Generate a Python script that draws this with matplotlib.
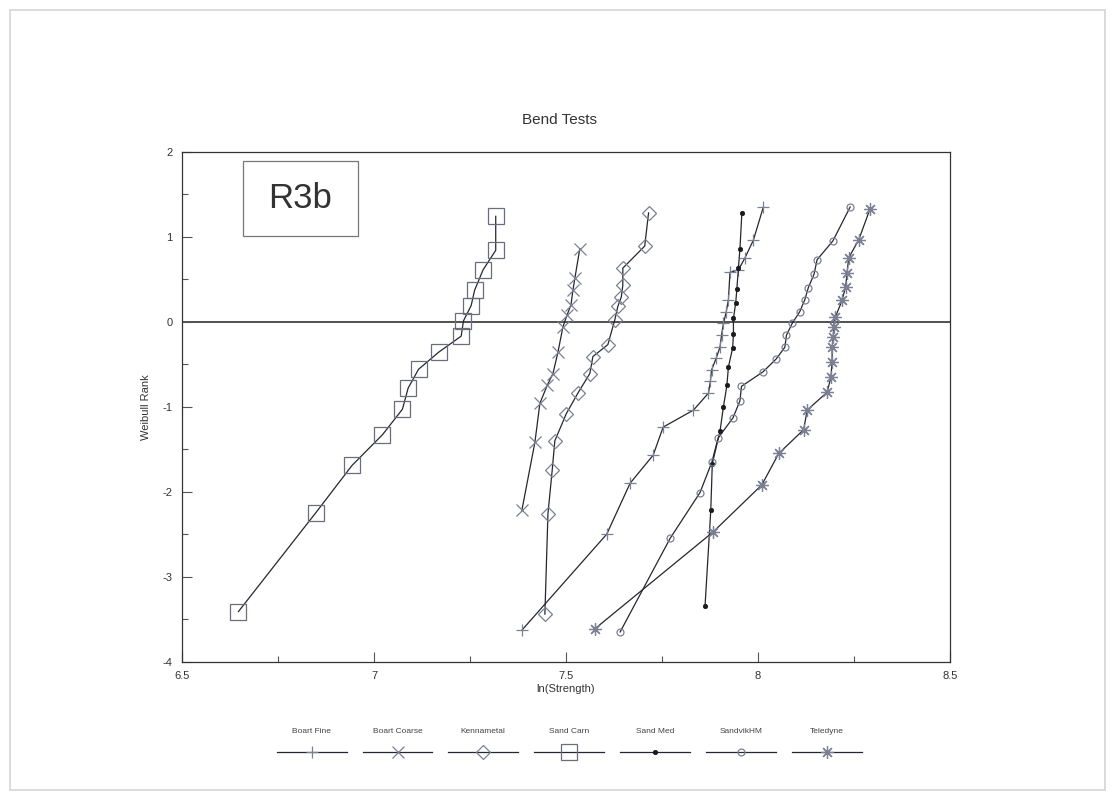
import matplotlib
matplotlib.use("Agg")
import matplotlib.pyplot as plt
from matplotlib.lines import Line2D
from matplotlib.patches import Rectangle
from matplotlib.ticker import MultipleLocator

plt.rcParams['font.family'] = ['Liberation Sans', 'DejaVu Sans']

# ---- data: ln(strength) vs Weibull rank for each material ----
series_names = ["Boart Fine", "Boart Coarse", "Kennametal", "Sand Carn",
                "Sand Med", "SandvikHM", "Teledyne"]

boart_fine_x = [7.385, 7.606, 7.667, 7.727, 7.753, 7.832, 7.871, 7.876, 7.879, 7.891,
                7.901, 7.905, 7.910, 7.917, 7.923, 7.927, 7.949, 7.966, 7.988, 8.014]
boart_fine_y = [-3.63, -2.50, -1.90, -1.57, -1.24, -1.04, -0.84, -0.70, -0.57, -0.43,
                -0.30, -0.16, -0.02, 0.11, 0.26, 0.58, 0.61, 0.75, 0.96, 1.35]

boart_coarse_x = [7.385, 7.419, 7.432, 7.451, 7.466, 7.479, 7.492, 7.503, 7.513,
                  7.518, 7.523, 7.536]
boart_coarse_y = [-2.22, -1.42, -0.96, -0.75, -0.61, -0.36, -0.06, 0.08, 0.20,
                  0.37, 0.51, 0.86]

kennametal_x = [7.445, 7.453, 7.464, 7.471, 7.501, 7.531, 7.562, 7.570, 7.609,
                7.627, 7.635, 7.644, 7.648, 7.648, 7.705, 7.715]
kennametal_y = [-3.44, -2.26, -1.75, -1.40, -1.08, -0.84, -0.61, -0.41, -0.27,
                0.02, 0.18, 0.29, 0.43, 0.63, 0.89, 1.28]

sand_carn_x = [6.647, 6.848, 6.943, 7.022, 7.074, 7.089, 7.116, 7.168, 7.227,
               7.233, 7.253, 7.262, 7.284, 7.317, 7.317]
sand_carn_y = [-3.41, -2.25, -1.69, -1.33, -1.03, -0.78, -0.56, -0.36, -0.17,
               0.01, 0.19, 0.37, 0.61, 0.84, 1.24]

sand_med_x = [7.862, 7.877, 7.881, 7.901, 7.910, 7.919, 7.923, 7.934, 7.936,
              7.936, 7.942, 7.945, 7.949, 7.953, 7.958]
sand_med_y = [-3.35, -2.22, -1.67, -1.29, -1.00, -0.75, -0.53, -0.31, -0.14,
              0.04, 0.22, 0.39, 0.63, 0.86, 1.28]

sandvik_x = [7.641, 7.771, 7.849, 7.880, 7.896, 7.935, 7.953, 7.957, 8.013, 8.047,
             8.070, 8.074, 8.089, 8.109, 8.122, 8.131, 8.146, 8.154, 8.195, 8.240]
sandvik_y = [-3.65, -2.55, -2.01, -1.65, -1.37, -1.13, -0.93, -0.76, -0.59, -0.44,
             -0.30, -0.16, -0.02, 0.12, 0.26, 0.40, 0.56, 0.73, 0.95, 1.35]

teledyne_x = [7.576, 7.884, 8.010, 8.054, 8.119, 8.128, 8.180, 8.190, 8.193, 8.193,
              8.196, 8.197, 8.201, 8.219, 8.228, 8.232, 8.236, 8.262, 8.292]
teledyne_y = [-3.61, -2.47, -1.92, -1.55, -1.27, -1.04, -0.83, -0.65, -0.47, -0.30,
              -0.18, -0.06, 0.05, 0.25, 0.41, 0.57, 0.75, 0.96, 1.33]

x_ticks = [6.5, 7, 7.5, 8, 8.5]
x_tick_labels = ["6.5", "7", "7.5", "8", "8.5"]
y_ticks = [-4, -3, -2, -1, 0, 1, 2]
y_tick_labels = ["-4", "-3", "-2", "-1", "0", "1", "2"]

series_data = {
    "Boart Fine": (boart_fine_x, boart_fine_y),
    "Boart Coarse": (boart_coarse_x, boart_coarse_y),
    "Kennametal": (kennametal_x, kennametal_y),
    "Sand Carn": (sand_carn_x, sand_carn_y),
    "Sand Med": (sand_med_x, sand_med_y),
    "SandvikHM": (sandvik_x, sandvik_y),
    "Teledyne": (teledyne_x, teledyne_y),
}

# ---- styling ----
LINE = "#262630"
MARK = "#7b8092"
styles = {
    "Boart Fine":   dict(marker="+", ms=9, mec=MARK, mfc="none", mew=0.9),
    "Boart Coarse": dict(marker="x", ms=9, mec=MARK, mfc="none", mew=0.9),
    "Kennametal":   dict(marker="D", ms=7, mec=MARK, mfc="none", mew=0.9),
    "Sand Carn":    dict(marker="s", ms=11, mec="#6a6e7c", mfc="none", mew=0.9),
    "Sand Med":     dict(marker="o", ms=3.2, mec="#1a1a1a", mfc="#1a1a1a", mew=0.5),
    "SandvikHM":    dict(marker="o", ms=5, mec=MARK, mfc="none", mew=0.9),
    "Teledyne":     dict(marker=(8, 2, 0), ms=9, mec=MARK, mfc="none", mew=0.9),
}

W, H = 1117, 798
fig = plt.figure(figsize=(W / 100, H / 100), dpi=100)
fig.patch.set_facecolor("white")

# light page border
fig.patches.append(Rectangle((10 / W, 8 / H), 1095 / W, 780 / H, transform=fig.transFigure,
                             fill=False, ec="#d4d4d8", lw=1.2))

ax = fig.add_axes([182 / W, 1 - 661.7 / H, 768 / W, 510 / H])
ax.set_xlim(6.5, 8.5)
ax.set_ylim(-4, 2)

ax.axhline(0, color="#202020", lw=1.1, zorder=1)

for name in series_names:
    xs, ys = series_data[name]
    ax.plot(xs, ys, color=LINE, lw=0.9, zorder=3, **styles[name])

ax.set_xticks(x_ticks)
ax.set_xticklabels(x_tick_labels)
ax.set_yticks(y_ticks)
ax.set_yticklabels(y_tick_labels)
ax.xaxis.set_minor_locator(MultipleLocator(0.25))
ax.yaxis.set_minor_locator(MultipleLocator(0.5))
ax.tick_params(which="both", direction="in", top=False, right=False,
               color="#555", labelsize=8, labelcolor="#333")
ax.tick_params(which="major", length=7, width=0.8, pad=7)
ax.tick_params(which="minor", length=4, width=0.8)
for sp in ax.spines.values():
    sp.set_color("#333")
    sp.set_linewidth(0.9)

fig.text(560 / W, 1 - 120 / H, "Bend Tests", fontsize=11, color="#333",
         ha="center", va="center")
ax.set_xlabel("ln(Strength)", fontsize=8, color="#333", labelpad=2)
ax.set_ylabel("Weibull Rank", fontsize=8, color="#333", labelpad=8)

# panel tag in a framed box
ax.add_patch(Rectangle((0.0794, 0.835), 0.150, 0.147, transform=ax.transAxes,
                       fill=True, fc="white", ec="#777", lw=0.9, zorder=4))
ax.text(0.154, 0.908, "R3b", transform=ax.transAxes, fontsize=25, color="#333",
        ha="center", va="center", zorder=5)

# legend row below the axes: label above a short line sample
cx0, dx = 311.7, 85.8
for i, name in enumerate(series_names):
    cx = cx0 + i * dx
    fig.text(cx / W, 1 - 731.7 / H, name, fontsize=6, color="#444",
             ha="center", va="center")
    fig.add_artist(Line2D([(cx - 35) / W, (cx + 35) / W], [1 - 752.3 / H] * 2,
                          transform=fig.transFigure, color=LINE, lw=0.9))
    fig.add_artist(Line2D([cx / W], [1 - 752.3 / H], transform=fig.transFigure,
                          linestyle="none", **styles[name]))

fig.savefig("out.png", dpi=100)
